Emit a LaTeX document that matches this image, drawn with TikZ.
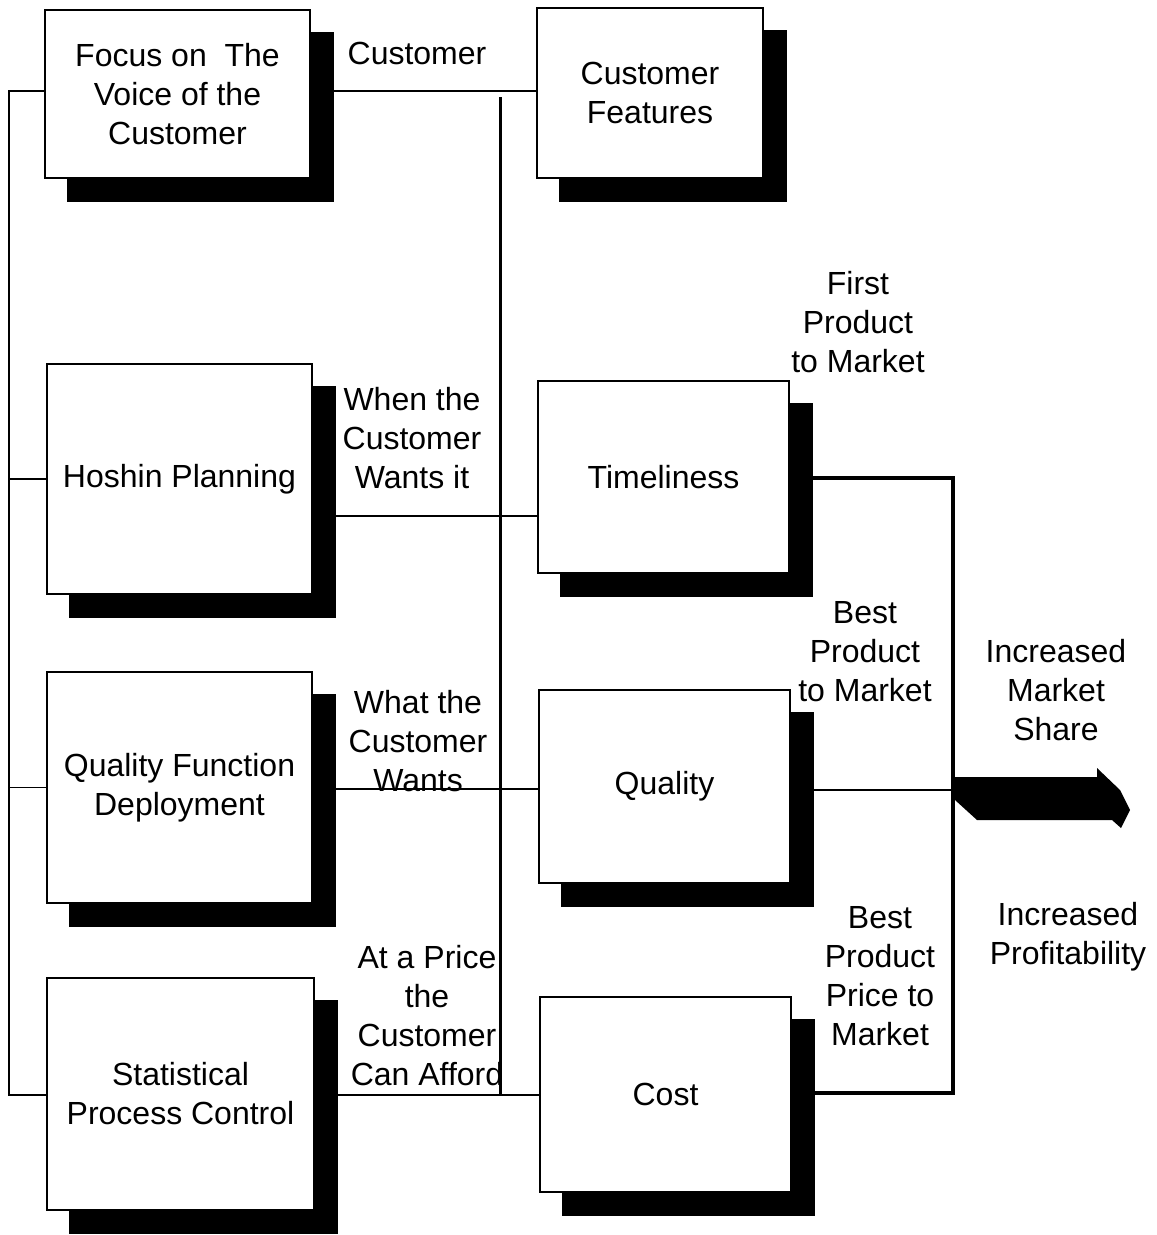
\documentclass[tikz,border=0pt]{standalone}
\usepackage{fontspec}
\setmainfont{Liberation Sans}
\usetikzlibrary{calc}
\pgfdeclarelayer{bg}
\pgfsetlayers{bg,main}
\begin{document}
\begin{tikzpicture}[x=1pt,y=-1pt,
  box/.style={draw, fill=white, line width=1.1pt, inner sep=0pt, align=center,
    font=\fontsize{32}{39}\selectfont},
  lbl/.style={inner sep=0pt, align=center, font=\fontsize{32}{39}\selectfont},
  wire/.style={line width=1.2pt},
  bus/.style={line width=3.4pt},
]
\useasboundingbox (0,0) rectangle (1157,1235);

% left column
\node[box, minimum width=265pt, minimum height=168pt] (focus) at (177.5,94) {Focus on\ \ The\\Voice of the\\Customer};
\node[box, minimum width=265pt, minimum height=230pt] (hoshin) at (179.5,479) {Hoshin Planning};
\node[box, minimum width=265pt, minimum height=231pt] (qfd) at (179.5,787.5) {Quality Function\\Deployment};
\node[box, minimum width=267pt, minimum height=232pt] (spc) at (180.5,1094) {Statistical\\Process Control};

% right column
\node[box, minimum width=226pt, minimum height=170pt] (cf) at (650,93) {Customer\\Features};
\node[box, minimum width=251pt, minimum height=192pt] (tl) at (663.5,477) {Timeliness};
\node[box, minimum width=251pt, minimum height=193pt] (quality) at (664.5,786.5) {Quality};
\node[box, minimum width=251pt, minimum height=195pt] (cost) at (665.5,1094.5) {Cost};

% drop shadows
\begin{pgfonlayer}{bg}
  \foreach \n in {focus,hoshin,qfd,spc,cf,tl,quality,cost}
    \fill ($(\n.south west)+(23,23)$) rectangle ($(\n.north east)+(23,23)$);
\end{pgfonlayer}

% left bus
\coordinate (ltop) at (9,91);
\coordinate (lbot) at (9,1095);
\draw[wire] (focus.west |- ltop) -- (ltop) -- (lbot) -- (spc.west |- lbot);
\draw[wire] (hoshin.west) -- (hoshin.west -| ltop);
\draw[wire] (qfd.west) -- (qfd.west -| ltop);

% links between the columns
\draw[wire] (focus.east |- 0,91) -- (cf.west |- 0,91);
\draw[wire] (hoshin.east |- 0,516) -- (tl.west |- 0,516);
\draw[wire] (qfd.east |- 0,789) -- (quality.west |- 0,789);
\draw[wire] (spc.east |- 0,1095) -- (cost.west |- 0,1095);

% central vertical line
\coordinate (vtop) at (500,97);
\coordinate (vbot) at (500,1095);
\draw[line width=3pt] (vtop) -- (vbot);

% right collector
\coordinate (rtop) at (953,478);
\coordinate (rbot) at (953,1093);
\coordinate (join) at (953,790);
\draw[bus] (tl.east |- rtop) -- (rtop) -- (rbot) -- (cost.east |- rbot);
\draw[line width=2.6pt] (quality.east |- join) -- (join);

% block arrow
\fill (955,777) -- (1097,777) -- (1097,768) -- (1120,790) -- (1130,810)
  -- (1121,828) -- (1112,820) -- (977,820) -- (955,800) -- cycle;

% labels
\node[lbl] (l1) at (417,53) {Customer};
\node[lbl] (l2) at (412,438) {When the\\Customer\\Wants it};
\node[lbl] (l3) at (418,741) {What the\\Customer\\Wants};
\node[lbl] (l4) at (427,1016) {At a Price\\the\\Customer\\Can Afford};
\node[lbl] (l5) at (858,322) {First\\Product\\to Market};
\node[lbl] (l6) at (865,652) {Best\\Product\\to Market};
\node[lbl] (l7) at (1056,690) {Increased\\Market\\Share};
\node[lbl] (l8) at (1068,937) {Increased\\Profitability};
\node[lbl] (l9) at (880,976) {Best\\Product\\Price to\\Market};
\end{tikzpicture}
\end{document}
